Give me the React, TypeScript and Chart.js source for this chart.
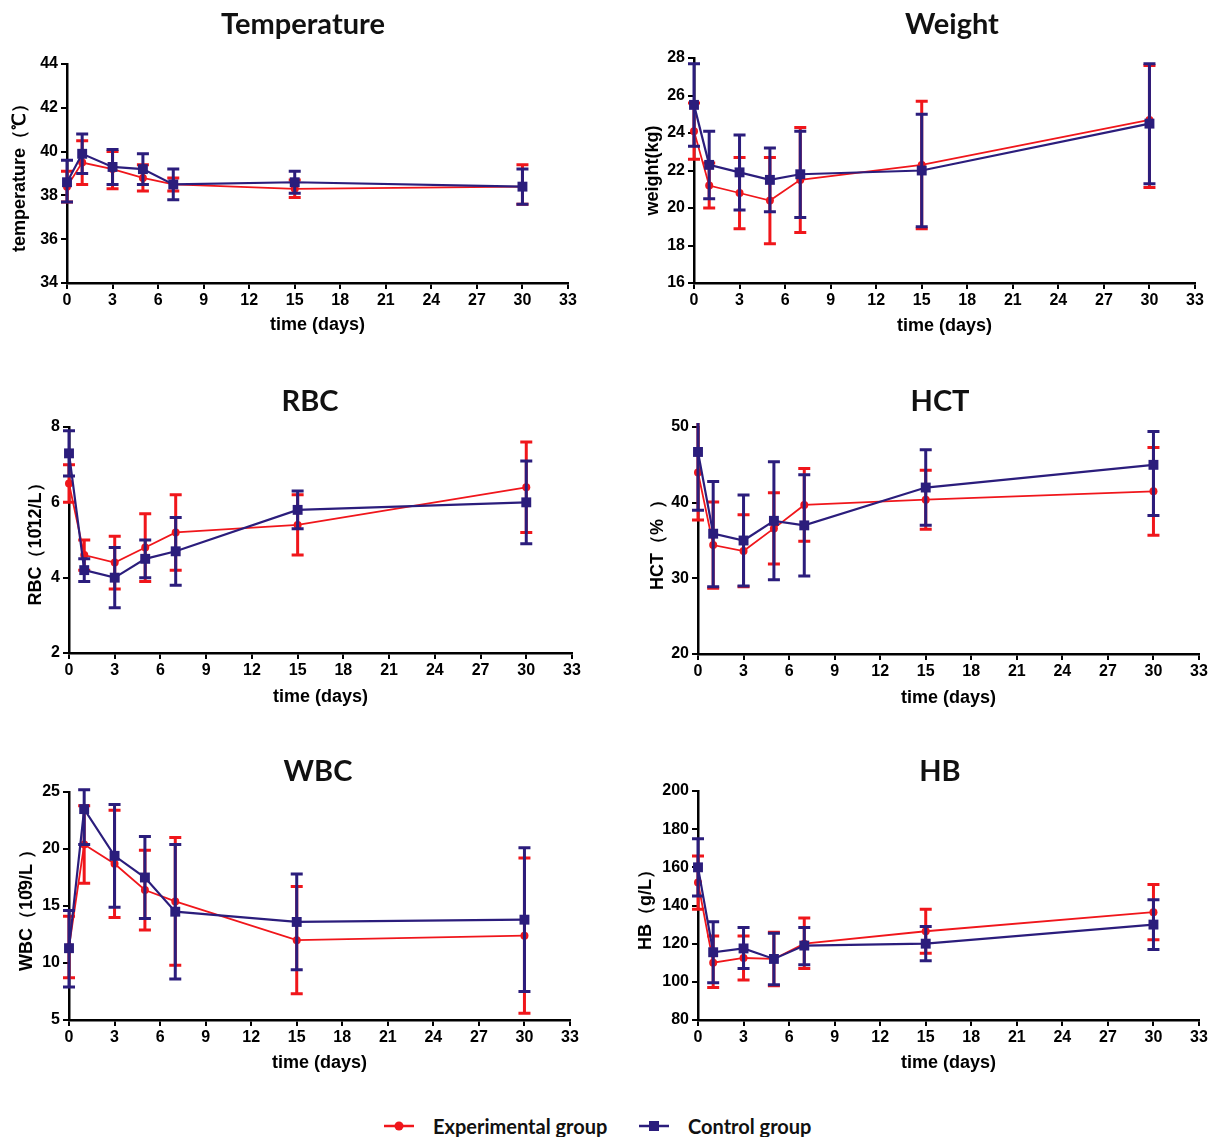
import React, { useEffect, useRef } from "react";
import { Chart, registerables } from "chart.js";

Chart.register(...registerables);

// ---------- data ----------
const days = [0, 1, 3, 5, 7, 15, 30];
const xTickValues = [0, 3, 6, 9, 12, 15, 18, 21, 24, 27, 30, 33];

const tempTicks = [34, 36, 38, 40, 42, 44];
const tempExpMean = [38.4, 39.5, 39.2, 38.8, 38.5, 38.3, 38.4];
const tempExpLow = [37.7, 38.5, 38.3, 38.2, 38.2, 37.9, 37.6];
const tempExpHigh = [39.1, 40.5, 40.0, 39.4, 38.8, 38.7, 39.4];
const tempCtlMean = [38.6, 39.9, 39.3, 39.2, 38.5, 38.6, 38.4];
const tempCtlLow = [37.7, 39.0, 38.5, 38.5, 37.8, 38.1, 37.6];
const tempCtlHigh = [39.6, 40.8, 40.1, 39.9, 39.2, 39.1, 39.2];

const weightTicks = [16, 18, 20, 22, 24, 26, 28];
const weightExpMean = [24.1, 21.2, 20.8, 20.4, 21.5, 22.3, 24.7];
const weightExpLow = [22.6, 20.0, 18.9, 18.1, 18.7, 18.9, 21.1];
const weightExpHigh = [25.6, 22.4, 22.7, 22.7, 24.3, 25.7, 27.6];
const weightCtlMean = [25.5, 22.3, 21.9, 21.5, 21.8, 22.0, 24.5];
const weightCtlLow = [23.3, 20.5, 19.9, 19.8, 19.5, 19.0, 21.3];
const weightCtlHigh = [27.7, 24.1, 23.9, 23.2, 24.1, 25.0, 27.7];

const rbcTicks = [2, 4, 6, 8];
const rbcExpMean = [6.5, 4.6, 4.4, 4.8, 5.2, 5.4, 6.4];
const rbcExpLow = [6.0, 4.2, 3.7, 3.9, 4.2, 4.6, 5.2];
const rbcExpHigh = [7.0, 5.0, 5.1, 5.7, 6.2, 6.2, 7.6];
const rbcCtlMean = [7.3, 4.2, 4.0, 4.5, 4.7, 5.8, 6.0];
const rbcCtlLow = [6.7, 3.9, 3.2, 4.0, 3.8, 5.3, 4.9];
const rbcCtlHigh = [7.9, 4.5, 4.8, 5.0, 5.6, 6.3, 7.1];

const hctTicks = [20, 30, 40, 50];
const hctExpMean = [44.0, 34.4, 33.6, 36.6, 39.7, 40.4, 41.5];
const hctExpLow = [37.7, 28.7, 28.9, 31.9, 34.9, 36.5, 35.7];
const hctExpHigh = [50.8, 40.1, 38.4, 41.3, 44.5, 44.3, 47.3];
const hctCtlMean = [46.7, 35.9, 35.0, 37.6, 37.0, 42.0, 45.0];
const hctCtlLow = [39.0, 28.9, 29.0, 29.8, 30.3, 37.0, 38.3];
const hctCtlHigh = [54.4, 42.8, 41.0, 45.4, 43.7, 47.0, 49.4];

const wbcTicks = [5, 10, 15, 20, 25];
const wbcExpMean = [11.4, 20.4, 18.7, 16.4, 15.4, 12.0, 12.4];
const wbcExpLow = [8.7, 17.0, 14.0, 12.9, 9.8, 7.3, 5.6];
const wbcExpHigh = [14.1, 23.8, 23.4, 19.9, 21.0, 16.7, 19.2];
const wbcCtlMean = [11.3, 23.5, 19.4, 17.5, 14.5, 13.6, 13.8];
const wbcCtlLow = [7.9, 20.4, 14.9, 13.9, 8.6, 9.4, 7.5];
const wbcCtlHigh = [14.6, 25.2, 23.9, 21.1, 20.4, 17.8, 20.1];

const hbTicks = [80, 100, 120, 140, 160, 180, 200];
const hbExpMean = [152, 110, 112.5, 112, 120, 126.5, 136.5];
const hbExpLow = [138, 97, 101, 98, 107, 115, 122];
const hbExpHigh = [166, 124, 124, 126, 133.5, 138, 151];
const hbCtlMean = [160, 115.5, 117.5, 112, 119, 120, 130];
const hbCtlLow = [145, 99.5, 107, 98.5, 109, 111, 117];
const hbCtlHigh = [175, 131.5, 128.5, 125.5, 128.5, 129, 143];

const seriesNames = ["Experimental group", "Control group"];

// ---------- styles ----------
const RED = "#f0161b";
const NAVY = "#2b1d7c";
const TICK_FONT = "'Liberation Sans', Arial, sans-serif";
const TITLE_FONT = "Lato, 'Open Sans', sans-serif";
const TITLE_SIZE = 29;
const AXIS_TITLE_SIZE = 18;

const errorBarPlugin = {
  id: "errorBars",
  beforeDatasetDraw(chart: any, args: any) {
    const ds = chart.data.datasets[args.index];
    if (!ds.errLow) return;
    const xs = chart.scales.x;
    const ys = chart.scales.y;
    const a = chart.chartArea;
    const ctx = chart.ctx;
    ctx.save();
    ctx.beginPath();
    ctx.rect(a.left - 30, a.top - 4, a.right - a.left + 60, a.bottom - a.top + 30);
    ctx.clip();
    ctx.strokeStyle = ds.borderColor;
    ctx.lineWidth = ds.errWidth;
    ctx.lineCap = "butt";
    const cap = ds.capHalf;
    ds.data.forEach((p: any, i: number) => {
      const px = xs.getPixelForValue(p.x);
      const lo = ys.getPixelForValue(ds.errLow[i]);
      const hi = ys.getPixelForValue(ds.errHigh[i]);
      ctx.beginPath();
      ctx.moveTo(px, lo);
      ctx.lineTo(px, hi);
      ctx.moveTo(px - cap, lo);
      ctx.lineTo(px + cap, lo);
      ctx.moveTo(px - cap, hi);
      ctx.lineTo(px + cap, hi);
      ctx.stroke();
    });
    ctx.restore();
  },
};

// Title centred on the whole canvas (built-in title is centred inside layout padding)
const panelTitlePlugin = {
  id: "panelTitle",
  afterDraw(chart: any, _args: any, opts: any) {
    if (!opts || !opts.text) return;
    const ctx = chart.ctx;
    ctx.save();
    ctx.font = `bold ${TITLE_SIZE}px ${TITLE_FONT}`;
    ctx.fillStyle = "#111";
    ctx.textAlign = "center";
    ctx.textBaseline = "middle";
    ctx.fillText(opts.text, chart.width / 2, opts.y);
    ctx.restore();
  },
};

type Box = {
  L: number; T: number; W: number; H: number;
  cl: number; ct: number; cr: number; cb: number;
  titleY: number; xTitleY: number; yTitleX: number;
};

type PanelProps = {
  title: string;
  yTitle: string;
  yTicks: number[];
  exp: [number[], number[], number[]];
  ctl: [number[], number[], number[]];
  box: Box;
};

function Panel({ title, yTitle, yTicks, exp, ctl, box }: PanelProps) {
  const ref = useRef<HTMLCanvasElement>(null);
  useEffect(() => {
    if (!ref.current) return;
    const aLH = AXIS_TITLE_SIZE * 1.2;
    const chart = new Chart(ref.current, {
      type: "line",
      data: {
        datasets: [
          {
            label: seriesNames[1],
            data: days.map((d, i) => ({ x: d, y: ctl[0][i] })),
            borderColor: NAVY,
            backgroundColor: NAVY,
            borderWidth: 2.2,
            pointStyle: "rect",
            pointRadius: 7,
            pointBorderWidth: 0,
            order: 0,
            clip: false,
            errLow: ctl[1],
            errHigh: ctl[2],
            errWidth: 3,
            capHalf: 6,
          } as any,
          {
            label: seriesNames[0],
            data: days.map((d, i) => ({ x: d, y: exp[0][i] })),
            borderColor: RED,
            backgroundColor: RED,
            borderWidth: 1.8,
            pointStyle: "circle",
            pointRadius: 4,
            pointBorderWidth: 0,
            order: 1,
            clip: false,
            errLow: exp[1],
            errHigh: exp[2],
            errWidth: 3,
            capHalf: 6,
          } as any,
        ],
      },
      options: {
        responsive: false,
        animation: false,
        layout: { padding: { left: 0, top: box.ct - box.T, bottom: 0, right: box.L + box.W - box.cr } },
        plugins: {
          legend: { display: false },
          tooltip: { enabled: false },
          title: { display: false },
          panelTitle: { text: title, y: box.titleY - box.T },
        } as any,
        scales: {
          x: {
            type: "linear",
            min: 0,
            max: 33,
            afterBuildTicks: (s: any) => {
              s.ticks = xTickValues.map((v) => ({ value: v }));
            },
            afterFit: (s: any) => {
              s.height = box.T + box.H - box.cb;
            },
            grid: { drawOnChartArea: false, drawTicks: true, tickLength: 6, color: "#000", lineWidth: 2 },
            border: { display: true, color: "#000", width: 2.5 },
            ticks: {
              color: "#000",
              padding: 2,
              maxRotation: 0,
              font: { family: TICK_FONT, size: 16, weight: "bold" },
            },
            title: {
              display: true,
              text: "time (days)",
              color: "#000",
              font: { family: TICK_FONT, size: AXIS_TITLE_SIZE, weight: "bold" },
              padding: { top: 0, bottom: box.T + box.H - box.xTitleY - aLH / 2 },
            },
          },
          y: {
            type: "linear",
            min: yTicks[0],
            max: yTicks[yTicks.length - 1],
            afterBuildTicks: (s: any) => {
              s.ticks = yTicks.map((v) => ({ value: v }));
            },
            afterFit: (s: any) => {
              s.width = box.cl - box.L;
            },
            grid: { drawOnChartArea: false, drawTicks: true, tickLength: 6, color: "#000", lineWidth: 2 },
            border: { display: true, color: "#000", width: 2.5 },
            ticks: {
              color: "#000",
              padding: 3,
              font: { family: TICK_FONT, size: 16, weight: "bold" },
            },
            title: {
              display: true,
              text: yTitle,
              color: "#000",
              font: { family: TICK_FONT, size: AXIS_TITLE_SIZE, weight: "bold" },
              padding: { top: box.yTitleX - box.L - aLH / 2, bottom: 0 },
            },
          },
        },
      },
      plugins: [errorBarPlugin, panelTitlePlugin],
    });
    return () => chart.destroy();
  }, []);
  return (
    <canvas
      ref={ref}
      width={box.W}
      height={box.H}
      style={{ position: "absolute", left: box.L, top: box.T, width: box.W, height: box.H }}
    />
  );
}

const boxes: Record<string, Box> = {
  temp: { L: 0, T: 0, W: 606, H: 345, cl: 67, ct: 64, cr: 568, cb: 283, titleY: 25, xTitleY: 325, yTitleX: 20 },
  weight: { L: 625, T: 0, W: 654, H: 345, cl: 694, ct: 58, cr: 1195, cb: 283, titleY: 25, xTitleY: 326, yTitleX: 653 },
  rbc: { L: 0, T: 345, W: 620, H: 375, cl: 69, ct: 427, cr: 572, cb: 653, titleY: 402, xTitleY: 697, yTitleX: 36 },
  hct: { L: 630, T: 345, W: 620, H: 375, cl: 698, ct: 427, cr: 1199, cb: 654, titleY: 402, xTitleY: 698, yTitleX: 658 },
  wbc: { L: 0, T: 720, W: 636, H: 370, cl: 69, ct: 792, cr: 570, cb: 1020, titleY: 772, xTitleY: 1063, yTitleX: 27 },
  hb: { L: 630, T: 720, W: 620, H: 370, cl: 698, ct: 791, cr: 1199, cb: 1020, titleY: 772, xTitleY: 1063, yTitleX: 646 },
};

function LegendItem({ name, color, shape, left }: { name: string; color: string; shape: "circle" | "rect"; left: number }) {
  return (
    <div style={{ position: "absolute", left, top: 1112, height: 28, display: "flex", alignItems: "center" }}>
      <svg width={30} height={12} style={{ display: "block" }}>
        <line x1={0} y1={6} x2={30} y2={6} stroke={color} strokeWidth={2.5} />
        {shape === "circle" ? (
          <circle cx={15} cy={6} r={4.5} fill={color} />
        ) : (
          <rect x={10} y={1} width={10} height={10} fill={color} />
        )}
      </svg>
      <span
        style={{
          marginLeft: 19,
          fontFamily: TITLE_FONT,
          fontWeight: 700,
          fontSize: 20,
          color: "#111",
          whiteSpace: "nowrap",
          lineHeight: "24px",
        }}
      >
        {name}
      </span>
    </div>
  );
}

export default function App() {
  return (
    <div
      style={{
        position: "absolute",
        left: 0,
        top: 0,
        width: 1209,
        height: 1137,
        overflow: "hidden",
        background: "#fff",
      }}
    >
      <Panel title="Temperature" yTitle="temperature（℃）" yTicks={tempTicks}
        exp={[tempExpMean, tempExpLow, tempExpHigh]} ctl={[tempCtlMean, tempCtlLow, tempCtlHigh]} box={boxes.temp} />
      <Panel title="Weight" yTitle="weight(kg)" yTicks={weightTicks}
        exp={[weightExpMean, weightExpLow, weightExpHigh]} ctl={[weightCtlMean, weightCtlLow, weightCtlHigh]} box={boxes.weight} />
      <Panel title="RBC" yTitle={"RBC（10\u030212/L）"} yTicks={rbcTicks}
        exp={[rbcExpMean, rbcExpLow, rbcExpHigh]} ctl={[rbcCtlMean, rbcCtlLow, rbcCtlHigh]} box={boxes.rbc} />
      <Panel title="HCT" yTitle="HCT（%  ）" yTicks={hctTicks}
        exp={[hctExpMean, hctExpLow, hctExpHigh]} ctl={[hctCtlMean, hctCtlLow, hctCtlHigh]} box={boxes.hct} />
      <Panel title="WBC" yTitle={"WBC（10\u03029/L ）"} yTicks={wbcTicks}
        exp={[wbcExpMean, wbcExpLow, wbcExpHigh]} ctl={[wbcCtlMean, wbcCtlLow, wbcCtlHigh]} box={boxes.wbc} />
      <Panel title="HB" yTitle="HB（g/L）" yTicks={hbTicks}
        exp={[hbExpMean, hbExpLow, hbExpHigh]} ctl={[hbCtlMean, hbCtlLow, hbCtlHigh]} box={boxes.hb} />
      <LegendItem name={seriesNames[0]} color={RED} shape="circle" left={384} />
      <LegendItem name={seriesNames[1]} color={NAVY} shape="rect" left={639} />
    </div>
  );
}
